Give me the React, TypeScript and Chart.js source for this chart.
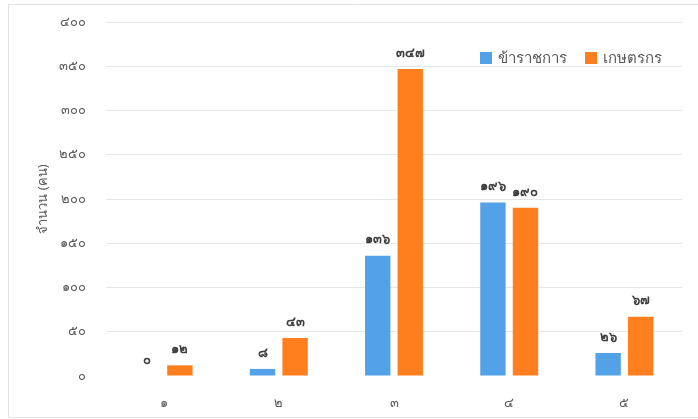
import React, { useEffect, useRef } from "react";
import { Chart, registerables } from "chart.js";

Chart.register(...registerables);

const categories = ["๑", "๒", "๓", "๔", "๕"];
const seriesNames = ["ข้าราชการ", "เกษตรกร"];
const officials = [0, 8, 136, 196, 26];
const farmers = [12, 43, 347, 190, 67];
const yTickLabels = ["๐", "๕๐", "๑๐๐", "๑๕๐", "๒๐๐", "๒๕๐", "๓๐๐", "๓๕๐", "๔๐๐"];
const yTitle = "จำนวน (คน)";

const colors = ["#53A2E8", "#FF7F1F"];
const textColor = "#595959";
const FONT = "'Noto Sans', 'DejaVu Sans', sans-serif";

const thaiDigits = ["๐", "๑", "๒", "๓", "๔", "๕", "๖", "๗", "๘", "๙"];
const toThai = (n: number) => String(n).replace(/[0-9]/g, (d) => thaiDigits[Number(d)]);

const extrasPlugin = {
  id: "extras",
  afterDatasetsDraw(chart: any) {
    const ctx = chart.ctx;
    ctx.save();
    ctx.font = `bold 13px ${FONT}`;
    ctx.fillStyle = "#404040";
    ctx.textAlign = "center";
    ctx.textBaseline = "middle";
    chart.data.datasets.forEach((ds: any, di: number) => {
      const meta = chart.getDatasetMeta(di);
      meta.data.forEach((bar: any, i: number) => {
        ctx.fillText(toThai(ds.data[i]), bar.x, bar.y - 16);
      });
    });
    ctx.restore();
  },
  afterDraw(chart: any) {
    const ctx = chart.ctx;
    ctx.save();
    ctx.strokeStyle = "#e3e3e3";
    ctx.lineWidth = 1;
    ctx.beginPath();
    ctx.moveTo(698, 4.5);
    ctx.lineTo(8.5, 4.5);
    ctx.lineTo(8.5, 417.5);
    ctx.lineTo(698, 417.5);
    ctx.stroke();
    const items = [
      { x: 480, label: seriesNames[0], color: colors[0] },
      { x: 585, label: seriesNames[1], color: colors[1] },
    ];
    ctx.font = `300 15px ${FONT}`;
    ctx.textAlign = "left";
    ctx.textBaseline = "middle";
    items.forEach((it) => {
      ctx.fillStyle = it.color;
      ctx.fillRect(it.x, 52, 12, 12);
      ctx.fillStyle = textColor;
      ctx.fillText(it.label, it.x + 18, 59);
    });
    ctx.restore();
  },
};

export default function App() {
  const ref = useRef<HTMLCanvasElement>(null);
  useEffect(() => {
    if (!ref.current) return;
    const chart = new Chart(ref.current, {
      type: "bar",
      data: {
        labels: categories,
        datasets: [
          { label: seriesNames[0], data: officials, backgroundColor: colors[0], categoryPercentage: 0.565, barPercentage: 0.78 },
          { label: seriesNames[1], data: farmers, backgroundColor: colors[1], categoryPercentage: 0.565, barPercentage: 0.78 },
        ],
      },
      options: {
        animation: false,
        responsive: false,
        maintainAspectRatio: false,
        layout: { padding: { top: 22, right: 16, left: 0, bottom: 0 } },
        plugins: { legend: { display: false }, tooltip: { enabled: false } },
        scales: {
          x: {
            grid: { display: false, drawTicks: false },
            border: { display: false },
            ticks: { color: textColor, font: { family: FONT, size: 13 }, padding: 19 },
            afterFit: (s: any) => { s.height = 43; },
          },
          y: {
            min: 0,
            max: 400,
            grid: {
              color: (c: any) => (c.tick && c.tick.value === 0 ? "rgba(0,0,0,0)" : "#e6e6e6"),
              drawTicks: true,
              tickLength: 20,
              tickColor: "rgba(0,0,0,0)",
            },
            border: { display: false },
            ticks: {
              stepSize: 50,
              color: textColor,
              font: { family: FONT, size: 13 },
              padding: 0,
              callback: (v: any) => yTickLabels[Math.round(Number(v) / 50)],
            },
            title: {
              display: true,
              text: yTitle,
              color: textColor,
              font: { family: FONT, size: 13 },
              padding: { top: 35, bottom: 0 },
            },
            afterFit: (s: any) => { s.width = 106; },
          },
        },
      },
      plugins: [extrasPlugin],
    });
    return () => chart.destroy();
  }, []);
  return (
    <div style={{ position: "fixed", left: 0, top: 0, width: 698, height: 419 }}>
      <canvas ref={ref} width={698} height={419} style={{ display: "block" }} />
    </div>
  );
}
